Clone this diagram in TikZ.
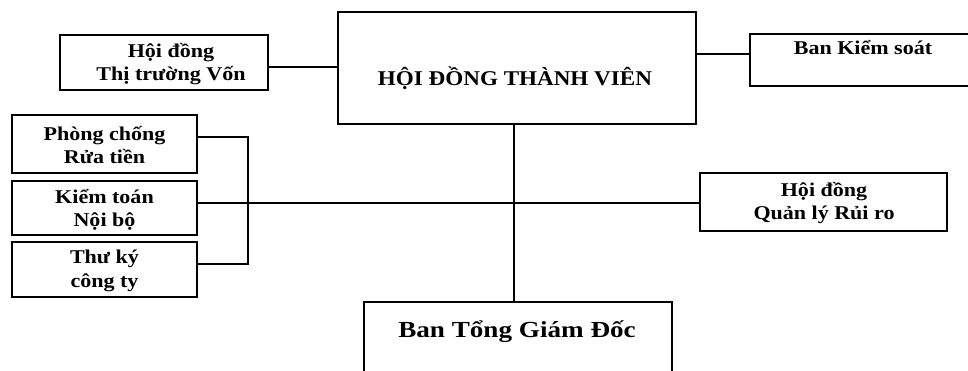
\documentclass[tikz,border=0pt]{standalone}
\usepackage{fontspec}
\setmainfont{Liberation Serif}
\newfontfamily\boxfont{Liberation Serif}[FakeStretch=1.13]
\newfontfamily\titlefont{Liberation Serif}[FakeStretch=1.1]
\newfontfamily\bottomfont{Liberation Serif}[FakeStretch=1.18]
\begin{document}
\begin{tikzpicture}[x=1pt,y=-1pt,
  box/.style={draw, line width=1.4pt, inner sep=0pt},
  lbl/.style={align=center, font=\boxfont\bfseries\fontsize{19.5}{23.5}\selectfont, inner sep=0pt},
  big/.style={font=\titlefont\bfseries\fontsize{21}{24}\selectfont, inner sep=0pt},
  bottomlbl/.style={font=\bottomfont\bfseries\fontsize{23}{26}\selectfont, inner sep=0pt},
  link/.style={line width=1.3pt},
  trunk/.style={line width=2.2pt}]
\useasboundingbox (0,0) rectangle (968,370);
% boxes
\node[box, minimum width=358pt, minimum height=112pt] (hdtv) at (517,68) {};
\node[big] (hdtvt) at (515,78) {HỘI ĐỒNG THÀNH VIÊN};
\node[box, minimum width=208pt, minimum height=55pt] (htt) at (164,62.5) {};
\node[lbl] (httt) at (171,64) {Hội đồng\\Thị trường Vốn};
\node[box, minimum width=230pt, minimum height=52pt] (bks) at (865,60) {};
\node[lbl] (bkst) at (863,47) {Ban Kiểm soát};
\node[box, minimum width=185pt, minimum height=58pt] (prt) at (104.5,144) {};
\node[lbl] (prtt) at (104.5,145) {Phòng chống\\Rửa tiền};
\node[box, minimum width=185pt, minimum height=54pt] (kt) at (104.5,208) {};
\node[lbl] (ktt) at (104.5,210) {Kiểm toán\\Nội bộ};
\node[box, minimum width=185pt, minimum height=55pt] (tk) at (104.5,269.5) {};
\node[lbl] (tkt) at (104.5,271) {Thư ký\\công ty};
\node[box, minimum width=247pt, minimum height=58pt] (qlrr) at (823.5,202) {};
\node[lbl] (qlrrt) at (824,203) {Hội đồng\\Quản lý Rủi ro};
\node[box, minimum width=308pt, minimum height=100pt] (btgd) at (518,352) {};
\node[bottomlbl] (btgdt) at (517,332) {Ban Tổng Giám Đốc};
% connector anchors
\coordinate (br) at (248,203);
\coordinate (httc) at ([yshift=-4.5pt]htt.east);
\coordinate (bksc) at ([yshift=6pt]bks.west);
\coordinate (prtc) at ([yshift=7pt]prt.east);
\coordinate (tkc) at ([yshift=5.5pt]tk.east);
\coordinate (tr) at (514,0);
% connectors
\draw[link] (httc) -- (hdtv.west |- httc);
\draw[link] (bksc) -- (hdtv.east |- bksc);
\draw[trunk] (hdtv.south -| tr) -- (btgd.north -| tr);
\draw[link] (kt.east |- br) -- (qlrr.west |- br);
\draw[link] (prtc) -| (br) |- (tkc);
\end{tikzpicture}
\end{document}
